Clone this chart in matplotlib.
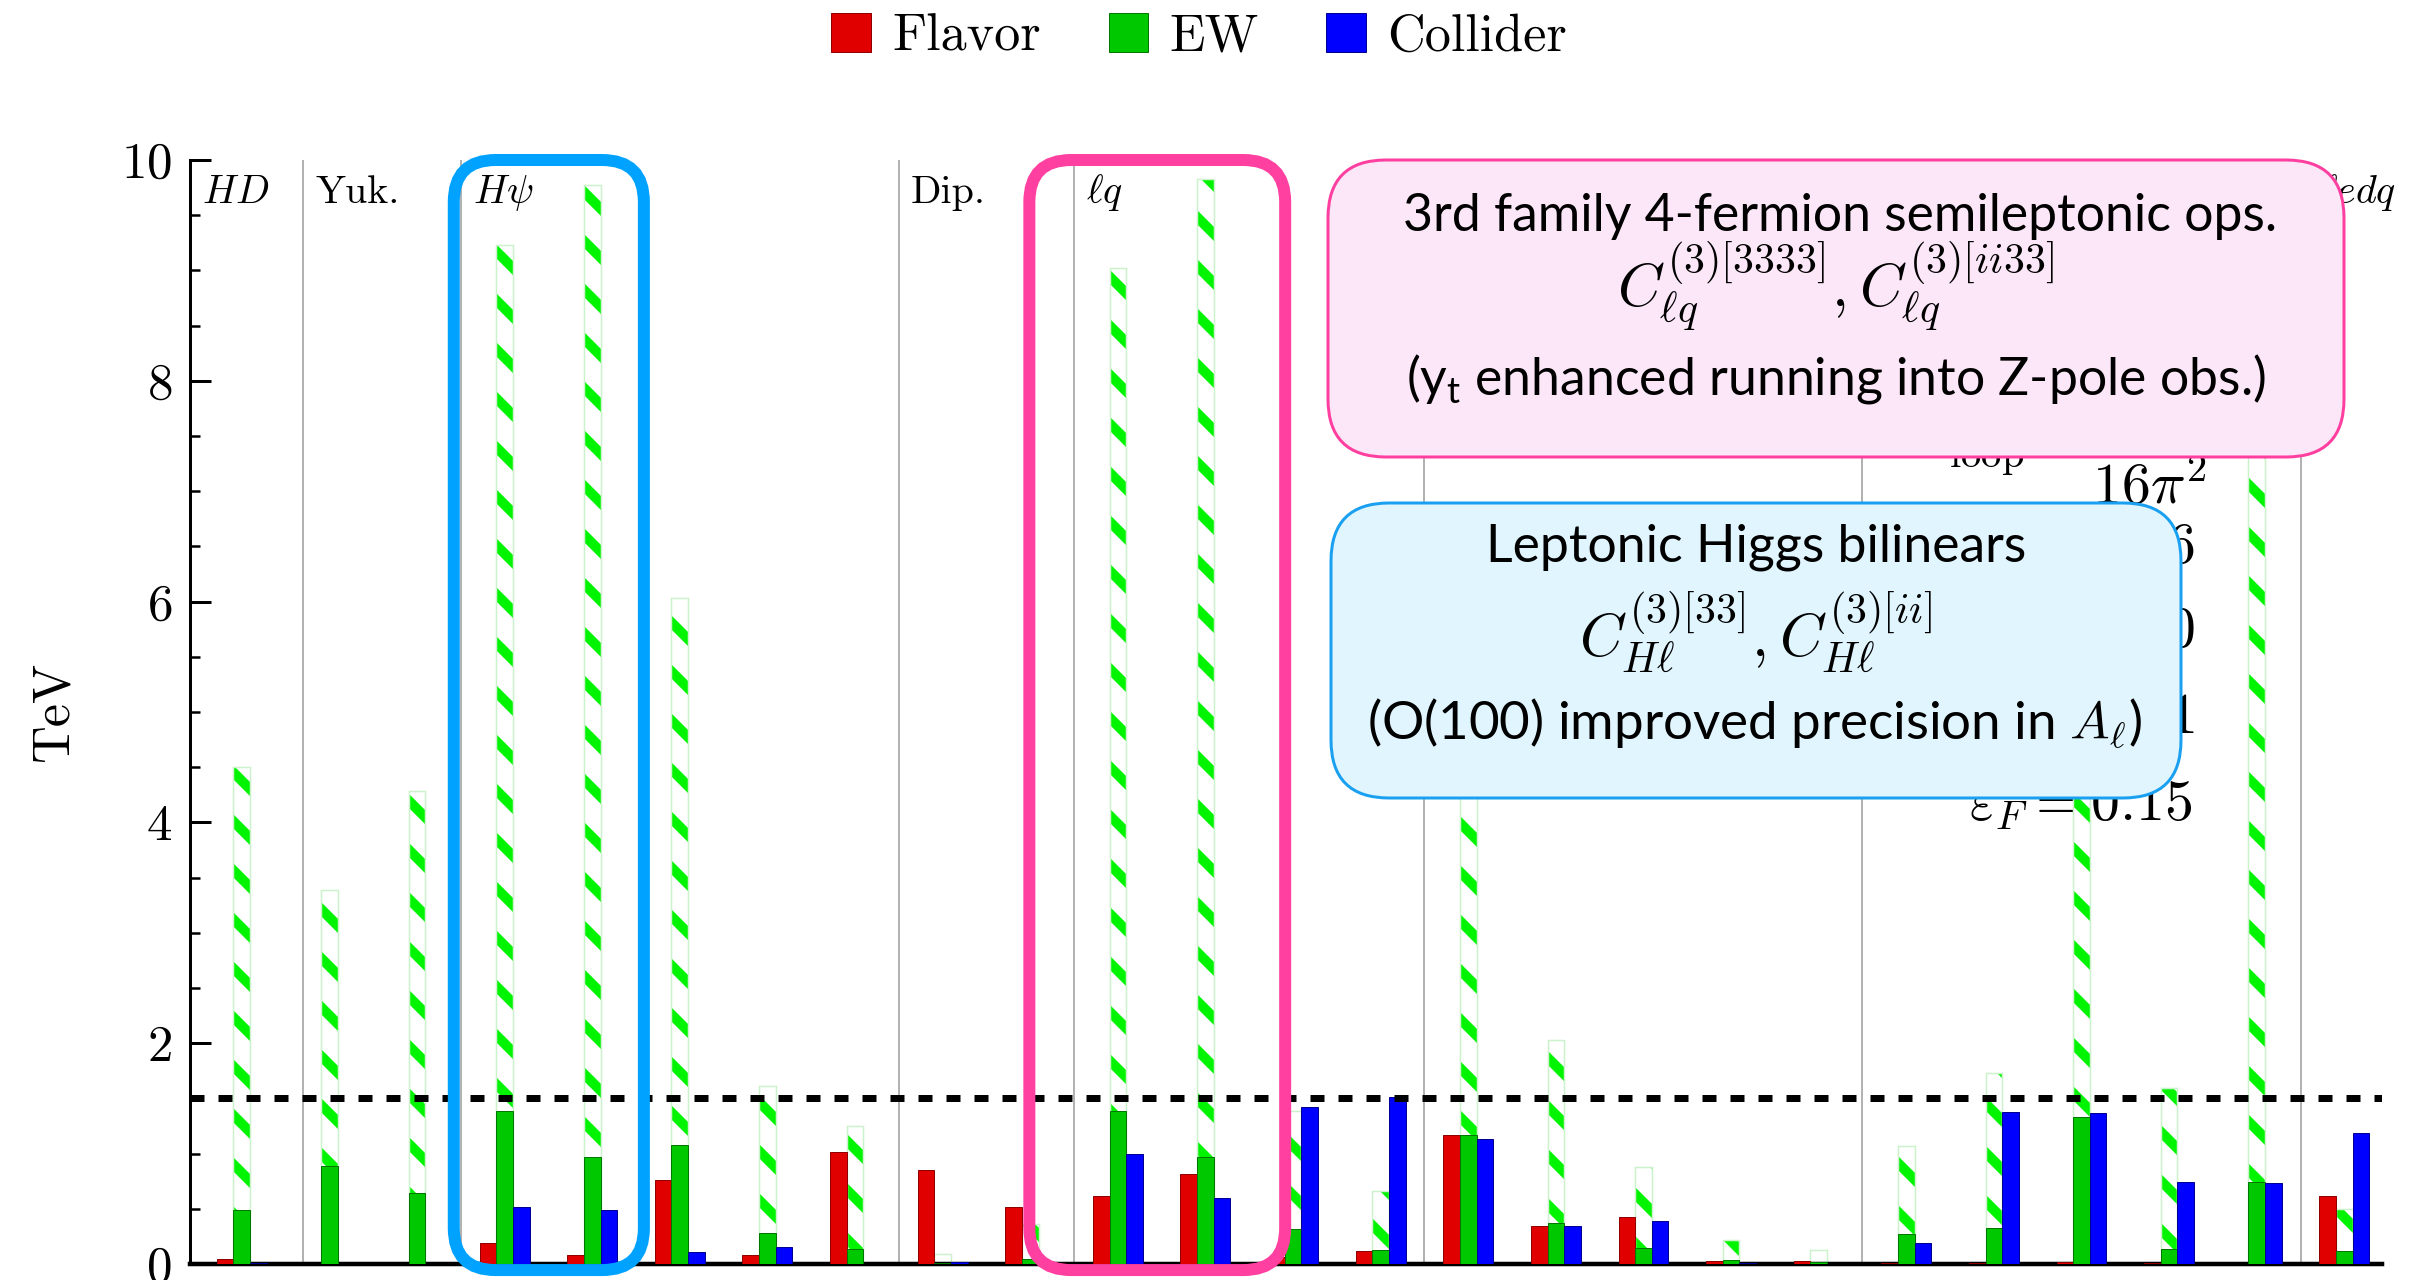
import matplotlib
matplotlib.use('Agg')
import matplotlib.pyplot as plt
from matplotlib.patches import FancyBboxPatch, Patch
from matplotlib.transforms import IdentityTransform
import numpy as np

# bounds in TeV, one entry per operator (25 operators)
flavor = [0.045, 0.0, 0.0, 0.19, 0.085, 0.76, 0.08, 1.01, 0.855, 0.52,
          0.615, 0.815, 0.065, 0.115, 1.17, 0.34, 0.425, 0.025, 0.03, 0.012,
          0.01, 0.015, 0.005, 0.003, 0.615]
ew = [0.49, 0.89, 0.64, 1.39, 0.97, 1.08, 0.28, 0.135, 0.01, 0.045,
      1.385, 0.97, 0.32, 0.13, 1.17, 0.375, 0.145, 0.034, 0.02, 0.27,
      0.325, 1.33, 0.14, 0.74, 0.12]
ew_loop = [4.5, 3.39, 4.28, 9.23, 9.77, 6.03, 1.61, 1.25, 0.09, 0.36,
           9.02, 9.83, 1.39, 0.665, 5.6, 2.03, 0.88, 0.22, 0.13, 1.065,
           1.73, 5.2, 1.59, 8.6, 0.5]
collider = [0.012, 0.0, 0.0, 0.52, 0.49, 0.11, 0.155, 0.0, 0.015, 0.015,
            1.0, 0.595, 1.425, 1.51, 1.13, 0.345, 0.385, 0.006, 0.0, 0.19,
            1.375, 1.37, 0.74, 0.73, 1.19]

series_names = ['Flavor', 'EW', 'Collider']
series_colors = ['#E00000', '#00C800', '#0000FF']
series_edges = ['#900000', '#007800', '#000090']

section_edges = [0.7, 2.5, 7.5, 9.5, 13.5, 18.5, 23.5]
section_labels = [r'$HD$', 'Yuk.', r'$H\psi$', 'Dip.', r'$\ell q$', None, None, r'$\ell edq$']
section_offsets = [0.14, 0.14, 0.14, 0.14, 0.14, 0.14, 0.14, 0.22]
threshold = 1.5

param_labels = [r'$\epsilon_{\rm loop} = \dfrac{1}{16\pi^2}$', r'$g_* = 6$',
                r'$N = 10$', r'$c = 1$', r'$\varepsilon_F = 0.15$']

# highlighted operator ranges (data x) and their colours
highlights = [(2.42, 4.59, '#00A2FF'), (8.99, 11.91, '#FF40A0')]

W, H, DPI = 2415, 1280, 147
PT = 72 / DPI   # points per output pixel
S = 160 / DPI   # font sizes below were tuned at 160 dpi

plt.rcParams['font.family'] = 'cmr10'
plt.rcParams['mathtext.fontset'] = 'cm'
plt.rcParams['axes.formatter.use_mathtext'] = True
plt.rcParams['mathtext.rm'] = 'Lato'
plt.rcParams['mathtext.it'] = 'Lato:italic'
plt.rcParams['mathtext.bf'] = 'Lato:bold'
plt.rcParams['hatch.linewidth'] = 10.0 * PT

fig = plt.figure(figsize=(W / DPI, H / DPI), dpi=DPI)
fig.patch.set_facecolor('white')
ax = fig.add_axes([190 / W, 1 - 1264 / H, (2382 - 190) / W, (1264 - 160) / H])
ax.set_xlim(-0.591, 24.43)
ax.set_ylim(0, 10)

x = np.arange(len(flavor))
bw = 0.19

# loop-level EW bounds: hatched, behind the rest
ax.bar(x, ew_loop, bw, color='white', edgecolor='#00F400', hatch='\\', linewidth=0, zorder=2)
ax.bar(x, ew_loop, bw, fill=False, edgecolor='#CCF2CC', linewidth=1.5 * PT, zorder=2.1)

for off, vals, c, ec in zip([-bw, 0, bw], [flavor, ew, collider], series_colors, series_edges):
    ax.bar(x + off, vals, bw, color=c, edgecolor=ec, linewidth=1.0 * PT, zorder=3)

for e in section_edges:
    ax.axvline(e, color='#A0A0A0', lw=1.6 * PT, zorder=1)

starts = [ax.get_xlim()[0]] + section_edges
for s, lab, off in zip(starts, section_labels, section_offsets):
    if lab:
        ax.text(s + off, 9.61, lab, fontsize=18 * S, ha='left', va='baseline', zorder=1.5)

ax.axhline(threshold, color='black', lw=7 * PT, dashes=(2, 2), zorder=4)

# parameter list (mostly covered by the boxes)
param_pos = [(2213, 458), (2195, 562), (2195, 647), (2195, 733), (2193, 820)]
for lab, (px, py) in zip(param_labels, param_pos):
    ax.text(px / W, 1 - py / H, lab, transform=fig.transFigure, fontsize=26 * S,
            ha='right', va='baseline', zorder=1.5)

ax.set_xticks([])
ax.set_yticks([0, 2, 4, 6, 8, 10])
ax.set_yticks(np.arange(0, 10.01, 0.5), minor=True)
ax.tick_params(axis='y', which='major', direction='in', length=21 * PT, width=3 * PT,
               labelsize=23 * S, pad=18 * PT)
ax.tick_params(axis='y', which='minor', direction='in', length=10 * PT, width=2.5 * PT)
ax.spines['top'].set_visible(False)
ax.spines['right'].set_visible(False)
ax.spines['left'].set_linewidth(3 * PT)
ax.spines['bottom'].set_linewidth(4.5 * PT)

fig.text(54 / W, 1 - 712 / H, 'TeV', rotation=90, ha='center', va='center', fontsize=23.5 * S)

handles = [Patch(facecolor=c, edgecolor=ec, linewidth=1.0 * PT)
           for c, ec in zip(series_colors, series_edges)]
fig.legend(handles, series_names, loc='center', bbox_to_anchor=(1199 / W, 1 - 37 / H),
           ncol=3, frameon=False, fontsize=23.5 * S, handlelength=0.76, handleheight=0.76,
           handletextpad=0.4, columnspacing=1.3)


def px_box(x0, y0, x1, y1, r, face, edge, lw, z):
    # rectangle given in output pixels, y measured from the top
    fig.add_artist(FancyBboxPatch((x0, H - y1), x1 - x0, y1 - y0,
                                  boxstyle=f'round,pad=0,rounding_size={r}',
                                  transform=IdentityTransform(), facecolor=face,
                                  edgecolor=edge, linewidth=lw * PT, zorder=z))


# outlines around highlighted operators
for x0, x1, c in highlights:
    (ax0, ay0) = ax.transData.transform((x0, -0.055))
    (ax1, ay1) = ax.transData.transform((x1, 10.0))
    px_box(ax0, H - ay1, ax1, H - ay0, 42, 'none', c, 12, 4)

# annotation boxes
px_box(1328, 160, 2344, 457, 58, '#FBE7F7', '#FF3FA0', 3, 5)
px_box(1331, 503, 2181, 798, 58, '#E1F5FE', '#1AA0F0', 3, 5)

fig.text(1840 / W, 1 - 217 / H, '3rd family 4-fermion semileptonic ops.', family='Lato',
         fontsize=23.3 * S, ha='center', va='center', zorder=6)
fig.text(1836 / W, 1 - 286 / H, r'$C_{\ell q}^{(3)[3333]}, C_{\ell q}^{(3)[ii33]}$',
         fontsize=27 * S, ha='center', va='center', zorder=6)
fig.text(1836 / W, 1 - 379 / H, r'(y$_{\mathrm{t}}$ enhanced running into Z-pole obs.)',
         family='Lato', math_fontfamily='custom', fontsize=23.3 * S,
         ha='center', va='center', zorder=6)

fig.text(1756 / W, 1 - 547 / H, 'Leptonic Higgs bilinears', family='Lato',
         fontsize=23.3 * S, ha='center', va='center', zorder=6)
fig.text(1756 / W, 1 - 632 / H, r'$C_{H\ell}^{(3)[33]}, C_{H\ell}^{(3)[ii]}$',
         fontsize=27 * S, ha='center', va='center', zorder=6)
fig.text(1754 / W, 1 - 724 / H, r'(O(100) improved precision in $A_\ell$)', family='Lato',
         math_fontfamily='cm', fontsize=23.8 * S, ha='center', va='center', zorder=6)

fig.savefig('out.png', dpi=DPI, facecolor='white')
